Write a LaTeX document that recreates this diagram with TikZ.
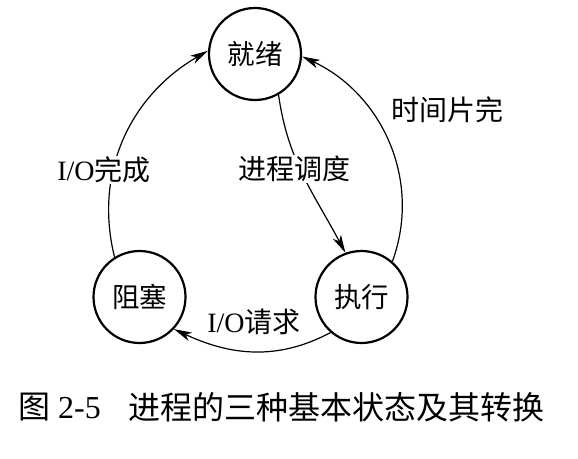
\documentclass[tikz,border=0pt]{standalone}
\usepackage{fontspec}
\setmainfont{Liberation Serif}
\newfontfamily\cjk{Noto Sans CJK SC}
\usetikzlibrary{arrows.meta}
\begin{document}
\begin{tikzpicture}[x=1pt,y=-1pt,
  state/.style={circle,draw,line width=2.2pt,minimum size=92pt,inner sep=0pt,font=\fontsize{27.5}{30}\selectfont\cjk},
  conn/.style={line width=1.2pt,-{Stealth[length=18pt,width=9pt,inset=5pt]}},
  lbl/.style={font=\fontsize{28}{30}\selectfont,inner sep=1pt},
  captext/.style={font=\fontsize{32}{36}\selectfont,inner sep=0pt,anchor=west}]
\useasboundingbox (0,0) rectangle (578,458);
\node[state] (jx) at (255,54) {就绪};
\node[state] (zs) at (139.5,297) {阻塞};
\node[state] (zx) at (361.5,297) {执行};
% connectors
\draw[conn] (jx.-60) to[out=-82,in=118] (zx.110);
\draw[conn] (zx.49) to[out=70,in=-25] (jx.-3);
\draw[conn] (zs.122) to[out=104,in=-150] (jx.176);
\draw[conn] (zx.-131) to[out=-152,in=-25] (zs.-43);
% labels
\node[lbl,fill=white] (l1) at (294,169) {\cjk 进程调度};
\node[lbl] (l2) at (447,110) {\cjk 时间片完};
\node[lbl,fill=white] (l3) at (104,170) {I/O\cjk 完成};
\node[lbl] (l4) at (254,322) {I/O\cjk 请求};
% caption
\node[captext] (c1) at (18,407) {{\cjk 图} 2-5};
\node[captext] (c2) at (128,407) {\cjk 进程的三种基本状态及其转换};
\end{tikzpicture}
\end{document}
